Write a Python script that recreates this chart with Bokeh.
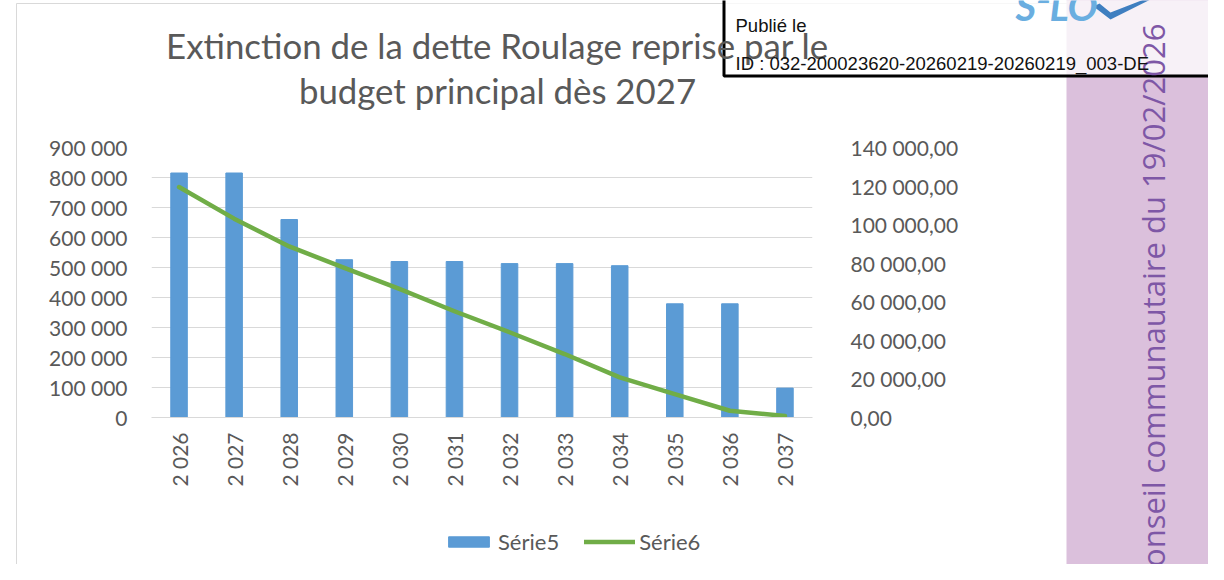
from math import pi

from bokeh.plotting import figure
from bokeh.layouts import column
from bokeh.models import (FactorRange, Range1d, LinearAxis, FixedTicker, Label,
                          Legend, LegendItem, ColumnDataSource)
from bokeh.embed import file_html
from bokeh.resources import INLINE

# ---------------- data ----------------
years = ["2 026", "2 027", "2 028", "2 029", "2 030", "2 031",
         "2 032", "2 033", "2 034", "2 035", "2 036", "2 037"]
serie5 = [815000, 815000, 660000, 526000, 520000, 520000,
          513000, 513000, 506000, 379000, 379000, 98000]
serie6 = [119500, 103100, 88700, 77600, 66700, 55100,
          44200, 32900, 20800, 12100, 3500, 800]
left_ticks = [0, 100000, 200000, 300000, 400000, 500000, 600000, 700000, 800000, 900000]
left_tick_labels = ["0", "100 000", "200 000", "300 000", "400 000", "500 000",
                    "600 000", "700 000", "800 000", "900 000"]
right_ticks = [0, 20000, 40000, 60000, 80000, 100000, 120000, 140000]
right_tick_labels = ["0,00", "20 000,00", "40 000,00", "60 000,00", "80 000,00",
                     "100 000,00", "120 000,00", "140 000,00"]
title_lines = ["Extinction de la dette Roulage reprise par le",
               "budget principal dès 2027"]
legend_labels = ["Série5", "Série6"]
stamp_lines = ["Publié le", "ID : 032-200023620-20260219-20260219_003-DE"]
side_text = "Conseil communautaire du 19/02/2026"
logo_text = "S²LO"

# ---------------- layout ----------------
W, H = 1208, 564
FL, FR, FT, FB = 151, 812, 147, 417   # chart frame edges in canvas pixels

GRAY = "#595959"
FONT = "Lato"
BLUE = "#5b9bd5"
GREEN = "#70ad47"
MID = 0.37   # offset from alphabetic baseline to text middle, in em

# ================= chart figure =================
p = figure(width=W, height=H,
           x_range=FactorRange(*years),
           y_range=Range1d(0, 900000),
           output_backend="svg", toolbar_location=None,
           min_border_left=FL, min_border_right=W - FR,
           min_border_top=FT, min_border_bottom=H - FB)
p.frame_align = False
p.extra_y_ranges = {"right": Range1d(0, 140000)}
p.outline_line_color = None
p.background_fill_color = "white"
p.border_fill_color = "white"

src = ColumnDataSource(dict(x=years, s5=serie5, s6=serie6))
bars = p.vbar(x="x", top="s5", width=0.3, source=src,
              fill_color=BLUE, line_color=BLUE)
line = p.line(x="x", y="s6", source=src, y_range_name="right",
              line_color=GREEN, line_width=4.5,
              line_join="round", line_cap="round")

p.xgrid.grid_line_color = None
p.ygrid.grid_line_color = "#d9d9d9"
p.ygrid.grid_line_width = 1


def style_axis(ax, standoff):
    ax.axis_line_color = None
    ax.major_tick_line_color = None
    ax.minor_tick_line_color = None
    ax.major_tick_out = 0
    ax.major_tick_in = 0
    ax.minor_tick_out = 0
    ax.minor_tick_in = 0
    ax.major_label_standoff = standoff
    ax.major_label_text_font = FONT
    ax.major_label_text_font_size = "21px"
    ax.major_label_text_color = GRAY


ya = p.yaxis[0]
ya.ticker = FixedTicker(ticks=left_ticks)
ya.major_label_overrides = dict(zip(left_ticks, left_tick_labels))
style_axis(ya, 24)

ra = LinearAxis(y_range_name="right", ticker=FixedTicker(ticks=right_ticks))
ra.major_label_overrides = dict(zip(right_ticks, right_tick_labels))
style_axis(ra, 38)
p.add_layout(ra, "right")

xa = p.xaxis[0]
style_axis(xa, 15)
xa.axis_line_color = "#d9d9d9"
xa.major_label_orientation = pi / 2

# ================= overlay figure (page decorations) =================
o = figure(width=W, height=H, x_range=Range1d(0, W), y_range=Range1d(0, H),
           x_axis_type=None, y_axis_type=None,
           output_backend="svg", toolbar_location=None, min_border=0)
o.frame_align = False
o.title.visible = False
o.outline_line_color = None
o.background_fill_alpha = 0
o.border_fill_alpha = 0
o.margin = (-H, 0, 0, 0)


def Y(ry):
    return H - ry


def lab(x, base_y, text, size, **kw):
    return Label(x=x, y=Y(base_y - MID * size), text=text,
                 text_font_size=f"{size}px", text_baseline="middle", **kw)


# chart outer border
o.quad(left=[16], right=[1100], top=[Y(3)], bottom=[Y(700)],
       fill_alpha=0, line_color="#d9d9d9", line_width=1)

# title
for t, base in zip(title_lines, [58, 103]):
    o.add_layout(lab(497, base, t, 34.8, text_font=FONT, text_color=GRAY,
                     text_align="center"))

# legend (proxies styled like the chart series; no visible data)
nan = float("nan")
pb = o.vbar(x=[nan], top=[nan], width=1, fill_color=BLUE, line_color=BLUE)
pl = o.line(x=[nan, nan], y=[nan, nan], line_color=GREEN, line_width=4.5,
            line_cap="round")
legend = Legend(items=[LegendItem(label=legend_labels[0], renderers=[pb]),
                       LegendItem(label=legend_labels[1], renderers=[pl])],
                location=(443, Y(555)), orientation="horizontal",
                glyph_width=51, glyph_height=13, label_height=13,
                label_standoff=4, spacing=25, padding=0, margin=0,
                label_text_font=FONT, label_text_font_size="22px",
                label_text_color=GRAY, border_line_color=None,
                background_fill_alpha=0)
o.add_layout(legend)

# side strip
o.quad(left=[1066], right=[1300], top=[Y(-50)], bottom=[Y(700)],
       fill_color="#dbc0dc", line_color=None)
o.add_layout(Label(x=1152, y=Y(23), angle=pi / 2, text=side_text,
                   text_font="Open Sans", text_font_size="31px",
                   text_color="#7e57a6", text_align="right",
                   text_baseline="middle"))

# stamp box (semi-transparent)
o.quad(left=[723.5], right=[1300], top=[Y(-50)], bottom=[Y(75.5)],
       fill_color="white", fill_alpha=0.78, line_color="black", line_width=3)
for txt, base in zip(stamp_lines, [32, 70]):
    o.add_layout(lab(735, base, txt, 18.5, text_font="Liberation Sans",
                     text_color="#111111", text_align="left"))

# logo
o.add_layout(lab(1015, 20, logo_text, 40, text_font=FONT,
                 text_font_style="bold italic", text_color="#6aaee0",
                 text_align="left"))
sw_x = [1093, 1110, 1152, 1146, 1110, 1099]
sw_y = [Y(v) for v in [6, 19, -2, -2, 12, 3]]
o.patch(x=sw_x, y=sw_y, fill_color="#3f7fc0", line_color=None)

layout = column(p, o)
open("out.html", "w").write(file_html(layout, INLINE))
